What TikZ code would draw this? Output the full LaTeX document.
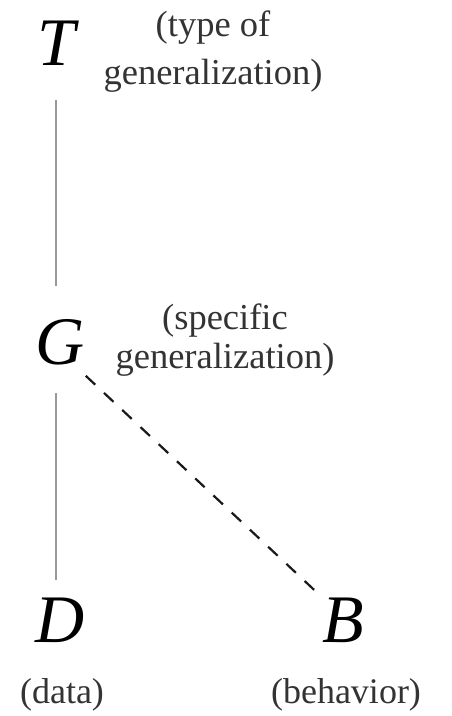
\documentclass[tikz,border=0pt]{standalone}
\usepackage{fontspec}
\setmainfont{Liberation Serif}
\begin{document}
\begin{tikzpicture}[x=1pt,y=-1pt,
  letter/.style={inner sep=0pt,anchor=base,font=\fontsize{68}{70}\selectfont\itshape},
  lbl/.style={inner sep=0pt,anchor=base,align=center,text=black!80},
  vline/.style={draw=black!40,line width=1.3pt},
  dline/.style={draw=black!90,line width=2.2pt,dash pattern=on 13pt off 12pt}]
\useasboundingbox (0,0) rectangle (452,716);
\node[letter] (T) at (56,65) {T};
\node[letter] (G) at (60,364) {G};
\node[letter] (D) at (60,642) {D};
\node[letter] (B) at (343,642) {B};
\node[lbl,font=\fontsize{36.5}{48}\selectfont] (lt) at (213,84) {(type of\\generalization)};
\node[lbl,font=\fontsize{36.5}{39}\selectfont] (lg) at (225,368) {(specific\\generalization)};
\node[lbl,font=\fontsize{36}{40}\selectfont\color{black}] (ld) at (62,703) {(data)};
\node[lbl,font=\fontsize{36}{40}\selectfont\color{black}] (lb) at (346,703) {(behavior)};
\draw[vline,shorten <=35pt,shorten >=33pt] (T.south) -- (T.south |- G.north);
\draw[vline,shorten <=28pt,shorten >=17pt] (T.south |- G.south) -- (T.south |- D.north);
\draw[dline,shorten >=5pt] ([shift={(1,11)}]G.south east) -- (B.north west);
\end{tikzpicture}
\end{document}
